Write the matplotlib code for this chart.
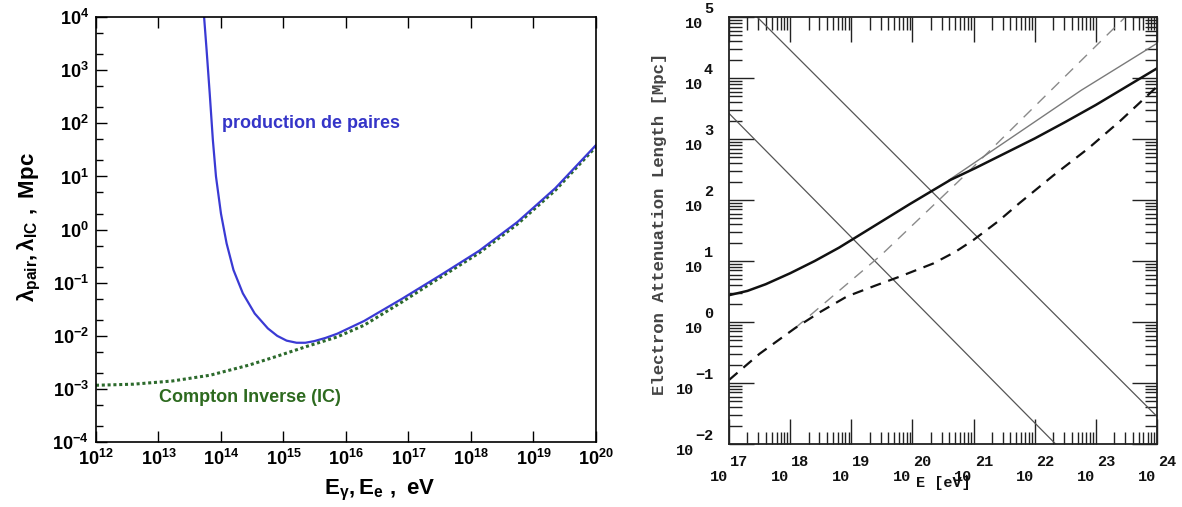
import numpy as np
import matplotlib
matplotlib.use('Agg')
import matplotlib.pyplot as plt
from matplotlib.ticker import FixedLocator, NullFormatter, NullLocator

# ---------------- data (log10 values) ----------------
# Left panel: pair production and inverse Compton lengths
pair_logE = [13.73, 13.77, 13.82, 13.87, 13.92, 14.00, 14.09, 14.20, 14.35, 14.54,
             14.75, 14.90, 15.05, 15.21, 15.35, 15.49, 15.67, 15.86, 16.29, 16.90,
             17.51, 18.13, 18.74, 19.35, 20.00]
pair_logL = [4.00, 3.38, 2.56, 1.69, 1.00, 0.30, -0.26, -0.76, -1.20, -1.58,
             -1.86, -2.00, -2.09, -2.13, -2.13, -2.10, -2.04, -1.96, -1.72, -1.30,
             -0.86, -0.40, 0.14, 0.78, 1.59]
ic_logE = [12.00, 12.60, 13.22, 13.83, 14.45, 14.88, 15.37, 15.86, 16.29, 16.90,
           17.51, 18.13, 18.74, 19.35, 20.00]
ic_logL = [-2.93, -2.91, -2.85, -2.74, -2.55, -2.39, -2.20, -2.02, -1.80, -1.36,
           -0.90, -0.44, 0.10, 0.74, 1.56]
left_xexp = list(range(12, 21))
left_yexp = list(range(-4, 5))
pair_label = "production de paires"
ic_label = "Compton Inverse (IC)"

# Right panel: electron attenuation lengths
steepA_logE = [17.46, 24.00]
steepA_logL = [5.00, -1.55]
steepB_logE = [17.00, 22.34]
steepB_logL = [3.42, -2.00]
total_logE = [17.00, 17.30, 17.60, 18.00, 18.40, 18.80, 19.27, 19.95, 20.62, 21.02,
              21.50, 22.00, 22.50, 23.00, 23.50, 24.00]
total_logL = [0.44, 0.51, 0.62, 0.80, 1.00, 1.22, 1.51, 1.93, 2.33, 2.52,
              2.76, 3.01, 3.28, 3.56, 3.86, 4.16]
dashed_logE = [17.00, 17.50, 18.08, 18.50, 18.93, 19.40, 19.78, 20.34, 20.70, 20.99,
               21.40, 21.75, 22.30, 22.88, 23.40, 24.00]
dashed_logL = [-0.95, -0.52, -0.10, 0.17, 0.42, 0.60, 0.74, 0.96, 1.15, 1.34,
               1.65, 1.95, 2.40, 2.85, 3.30, 3.86]
graydash_logE = [18.08, 19.49, 20.85, 23.48]
graydash_logL = [-0.10, 1.10, 2.40, 5.00]
graysolid_logE = [20.60, 22.76, 24.00]
graysolid_logL = [2.33, 3.80, 4.57]
right_xexp = list(range(17, 25))
right_yexp = list(range(-2, 6))


def p10(a):
    return 10.0 ** np.asarray(a, dtype=float)


plt.rcParams['mathtext.fontset'] = 'custom'
plt.rcParams['mathtext.rm'] = 'Liberation Sans:bold'
plt.rcParams['mathtext.it'] = 'Liberation Sans:bold'
plt.rcParams['mathtext.bf'] = 'Liberation Sans:bold'
plt.rcParams['mathtext.default'] = 'rm'
plt.rcParams['font.family'] = ['Liberation Sans', 'DejaVu Sans']
plt.rcParams['font.weight'] = 'bold'

fig = plt.figure(figsize=(11.82, 5.07), dpi=100)

# ---------------- left panel ----------------
ax1 = fig.add_axes([0.0812, 0.128, 0.423, 0.8383])
ax1.set_xscale('log')
ax1.set_yscale('log')
ax1.plot(p10(ic_logE), p10(ic_logL), color='#2c6a2c', lw=2.2,
         linestyle=(0, (1, 0.9)))
ax1.plot(p10(pair_logE), p10(pair_logL), color='#3a3ad4', lw=1.6)
ax1.set_xlim(1e12, 1e20)
ax1.set_ylim(1e-4, 1e4)

ax1.xaxis.set_major_locator(FixedLocator(p10(left_xexp)))
ax1.xaxis.set_minor_locator(NullLocator())
ax1.set_xticklabels([r'$10^{%d}$' % e for e in left_xexp])
ax1.yaxis.set_major_locator(FixedLocator(p10(left_yexp)))
ymin = []
for e in left_yexp[:-1]:
    ymin += [2 * 10.0 ** e, 5 * 10.0 ** e]
ax1.yaxis.set_minor_locator(FixedLocator(ymin))
ax1.yaxis.set_minor_formatter(NullFormatter())
ax1.set_yticklabels([r'$10^{%d}$' % e for e in left_yexp])
ax1.tick_params(which='both', direction='in', top=True, right=False,
                labelsize=13, width=1.0, pad=5)
ax1.tick_params(which='major', length=8)
ax1.tick_params(which='minor', length=5)
for s in ax1.spines.values():
    s.set_linewidth(1.2)

ax1.set_xlabel(r'$E_{\gamma}, E_{e}\ ,\ eV$', fontsize=16)
ax1.xaxis.set_label_coords(0.568, -0.085)
ax1.set_ylabel(r'$\lambda_{pair}, \lambda_{IC}\ ,\ Mpc$', fontsize=16)
ax1.yaxis.set_label_coords(-0.105, 0.506)

ax1.text(10 ** 14.02, 10 ** 2.0, pair_label, color='#3535c8', fontsize=13,
         fontweight='bold', va='center', ha='left')
ax1.text(10 ** 13.01, 10 ** -3.16, ic_label, color='#2d6a1f', fontsize=13,
         fontweight='bold', va='center', ha='left')

# ---------------- right panel ----------------
ax2 = fig.add_axes([0.6168, 0.1243, 0.3621, 0.842])
ax2.set_xscale('log')
ax2.set_yscale('log')
ax2.plot(p10(steepA_logE), p10(steepA_logL), color='#555555', lw=0.9)
ax2.plot(p10(steepB_logE), p10(steepB_logL), color='#555555', lw=0.9)
ax2.plot(p10(graydash_logE), p10(graydash_logL), color='#8a8a8a', lw=1.0,
         linestyle=(0, (8, 6)))
ax2.plot(p10(graysolid_logE), p10(graysolid_logL), color='#7a7a7a', lw=1.0)
ax2.plot(p10(total_logE), p10(total_logL), color='#111111', lw=1.8)
ax2.plot(p10(dashed_logE), p10(dashed_logL), color='#111111', lw=1.6,
         linestyle=(0, (5, 3.5)))
ax2.set_xlim(1e17, 1e24)
ax2.set_ylim(1e-2, 1e5)

ax2.xaxis.set_major_locator(FixedLocator(p10(right_xexp)))
ax2.yaxis.set_major_locator(FixedLocator(p10(right_yexp)))
xm = [k * 10.0 ** e for e in right_xexp[:-1] for k in range(2, 10)]
ym = [k * 10.0 ** e for e in right_yexp[:-1] for k in range(2, 10)]
ax2.xaxis.set_minor_locator(FixedLocator(xm))
ax2.yaxis.set_minor_locator(FixedLocator(ym))
ax2.xaxis.set_major_formatter(NullFormatter())
ax2.yaxis.set_major_formatter(NullFormatter())
ax2.xaxis.set_minor_formatter(NullFormatter())
ax2.yaxis.set_minor_formatter(NullFormatter())
ax2.tick_params(which='both', direction='in', top=True, right=True,
                width=1.0, color='#222222')
ax2.tick_params(which='major', length=18)
ax2.tick_params(which='minor', length=9)
for s in ax2.spines.values():
    s.set_linewidth(1.3)
    s.set_color('#222222')

mono = dict(family=['Liberation Mono', 'DejaVu Sans Mono'], fontweight='bold',
            fontsize=11, color='#111111')
cw = 9.17  # pixel width of one mono character
for e in right_xexp:
    ax2.annotate('10', xy=(10.0 ** e, 0), xycoords=('data', 'axes fraction'),
                 xytext=(-1, -33), textcoords='offset pixels',
                 ha='right', va='center', annotation_clip=False, **mono)
    ax2.annotate(str(e), xy=(10.0 ** e, 0), xycoords=('data', 'axes fraction'),
                 xytext=(1, -18), textcoords='offset pixels',
                 ha='left', va='center', annotation_clip=False, **mono)
for e in right_yexp:
    s = str(e).replace('-', '\u2212')
    ax2.annotate(s, xy=(0, 10.0 ** e), xycoords=('axes fraction', 'data'),
                 xytext=(-16, 8), textcoords='offset pixels',
                 ha='right', va='center', annotation_clip=False, **mono)
    ax2.annotate('10', xy=(0, 10.0 ** e), xycoords=('axes fraction', 'data'),
                 xytext=(-16 - cw * len(s) - 1, -7), textcoords='offset pixels',
                 ha='right', va='center', annotation_clip=False, **mono)

ax2.text(0.5, -0.091, 'E [eV]', transform=ax2.transAxes, ha='center',
         va='center', **mono)
ax2.text(-0.1636, 0.515, 'Electron Attenuation Length [Mpc]',
         transform=ax2.transAxes, rotation=90, ha='center', va='center',
         family=['Liberation Mono', 'DejaVu Sans Mono'], fontweight='bold',
         fontsize=12.5, color='#444444')

fig.savefig('out.png', dpi=100)
